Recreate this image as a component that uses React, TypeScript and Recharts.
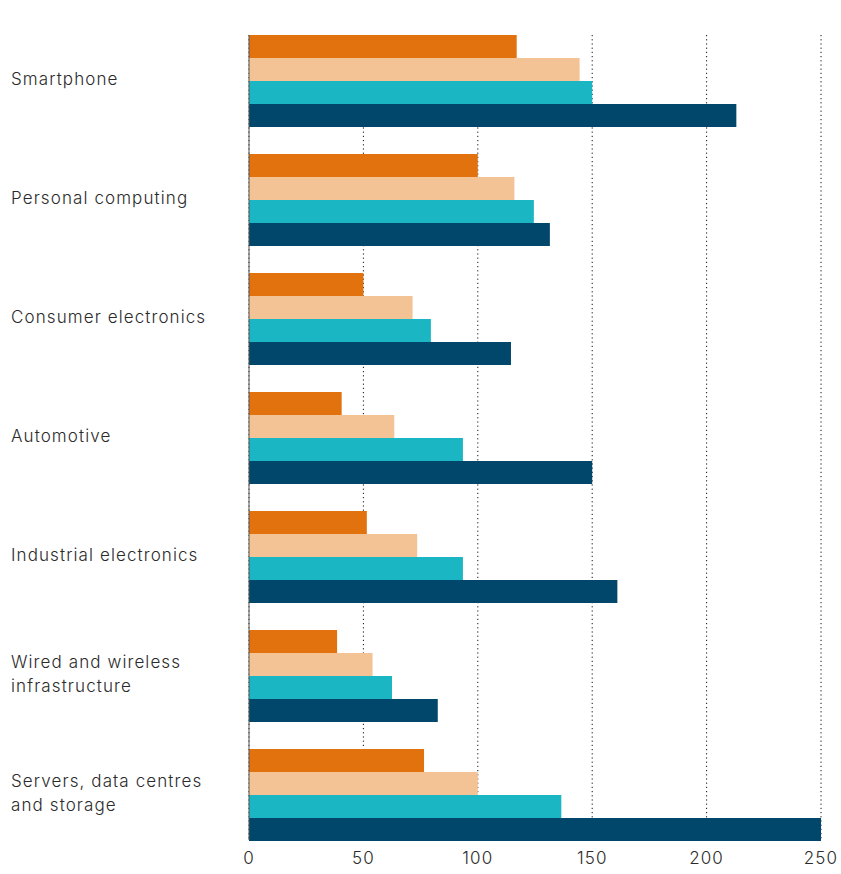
import { Bar, BarChart, CartesianGrid, XAxis, YAxis } from "recharts";

const CATEGORIES = [
  "Smartphone",
  "Personal computing",
  "Consumer electronics",
  "Automotive",
  "Industrial electronics",
  "Wired and wireless infrastructure",
  "Servers, data centres and storage",
];

const SERIES_A = [117, 100, 50, 40.5, 51.5, 38.5, 76.5];
const SERIES_B = [144.5, 116, 71.5, 63.5, 73.5, 54, 100];
const SERIES_C = [150, 124.5, 79.5, 93.5, 93.5, 62.5, 136.5];
const SERIES_D = [213, 131.5, 114.5, 150, 161, 82.5, 250];

const X_TICKS = [0, 50, 100, 150, 200, 250];

const COLORS = ["#e1720e", "#f3c396", "#1bb6c3", "#00476b"];
const FONT = "Inter, 'Noto Sans', sans-serif";
const INK = "#2b2b2b";

const data = CATEGORIES.map((name, i) => ({
  name,
  a: SERIES_A[i],
  b: SERIES_B[i],
  c: SERIES_C[i],
  d: SERIES_D[i],
}));

function wrap(text: string, max = 22) {
  const lines: string[] = [];
  let cur = "";
  for (const w of text.split(" ")) {
    if (cur && (cur + " " + w).length > max) {
      lines.push(cur);
      cur = w;
    } else {
      cur = cur ? cur + " " + w : w;
    }
  }
  if (cur) lines.push(cur);
  return lines;
}

function CategoryTick({ y, payload }: any) {
  const lines = wrap(String(payload.value));
  const lh = 24;
  const start = y - ((lines.length - 1) * lh) / 2 - 2;
  return (
    <text x={11} y={start} textAnchor="start" dominantBaseline="central" fill={INK} fontFamily={FONT} fontSize={17} fontWeight={300} letterSpacing={1.1}>
      {lines.map((l, i) => (
        <tspan key={i} x={11} y={start + i * lh}>
          {l}
        </tspan>
      ))}
    </text>
  );
}

export default function App() {
  return (
    <div style={{ position: "absolute", left: 0, top: 0, width: 841, height: 874, background: "#fff" }}>
      <BarChart
        width={841}
        height={874}
        data={data}
        layout="vertical"
        margin={{ top: 35, right: 20, bottom: 4, left: 0 }}
        barSize={23}
        barGap={0}
      >
        <CartesianGrid horizontal={false} stroke="#111" strokeDasharray="1.2 3" />
        <XAxis
          type="number"
          domain={[0, 250]}
          ticks={X_TICKS}
          axisLine={false}
          tickLine={false}
          tickSize={0}
          tickMargin={12}
          height={30}
          tick={{ fill: INK, fontFamily: FONT, fontSize: 17, fontWeight: 300, letterSpacing: 1.1 }}
        />
        <YAxis
          type="category"
          dataKey="name"
          width={249}
          padding={{ top: -14, bottom: -14 }}
          axisLine={{ stroke: "#555", strokeWidth: 1 }}
          tickLine={false}
          tick={<CategoryTick />}
        />
        <Bar dataKey="a" fill={COLORS[0]} isAnimationActive={false} />
        <Bar dataKey="b" fill={COLORS[1]} isAnimationActive={false} />
        <Bar dataKey="c" fill={COLORS[2]} isAnimationActive={false} />
        <Bar dataKey="d" fill={COLORS[3]} isAnimationActive={false} />
      </BarChart>
    </div>
  );
}
